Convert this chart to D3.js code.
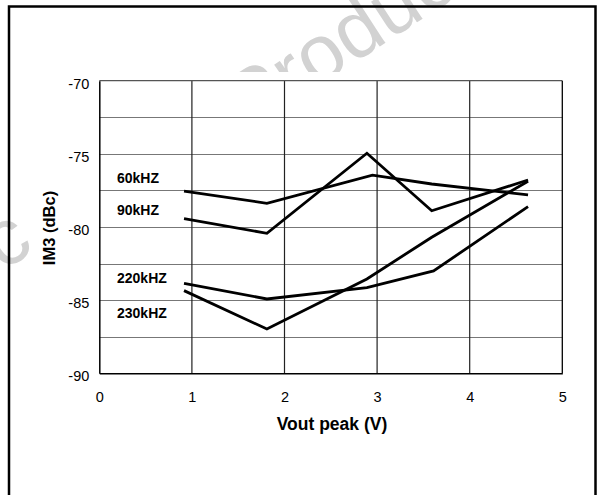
<!DOCTYPE html>
<html>
<head>
<meta charset="utf-8">
<script src="https://cdn.jsdelivr.net/npm/d3@7"></script>
<style>
  html, body { margin: 0; padding: 0; background: #fff; }
  svg { display: block; font-family: "Liberation Sans", Arial, sans-serif; }
</style>
</head>
<body>
<svg id="chart" width="597" height="495"></svg>
<script>
// ---- data ----
const seriesNames = ["60kHZ", "90kHZ", "220kHZ", "230kHZ"];
const x60  = [0.915, 1.81, 2.95, 3.59, 4.63];
const y60  = [-77.54, -78.38, -76.45, -77.06, -77.81];
const x90  = [0.915, 1.81, 2.89, 3.59, 4.63];
const y90  = [-79.43, -80.43, -74.96, -78.89, -76.79];
const x220 = [0.915, 1.81, 2.89, 3.61, 4.63];
const y220 = [-83.85, -84.92, -84.15, -83.0, -78.61];
const x230 = [0.915, 1.81, 2.89, 3.59, 4.63];
const y230 = [-84.35, -86.97, -83.55, -80.7, -76.87];
const xTicks = [0, 1, 2, 3, 4, 5];
const yTicks = [-90, -85, -80, -75, -70];
const yGrid = [-87.5, -85, -82.5, -80, -77.5, -75, -72.5];
const xGrid = [1, 2, 3, 4];

const svg = d3.select("#chart");
const L = 99.3, R = 562.3, T = 80.7, B = 373.3;
const x = d3.scaleLinear().domain([0, 5]).range([L, R]);
const y = d3.scaleLinear().domain([-90, -70]).range([B, T]);

// watermark (mostly hidden behind the chart area)
svg.append("defs").append("clipPath").attr("id", "wmclip")
  .append("path")
  .attr("d", "M0,0H597V72H37V495H0Z");
const wm = svg.append("g").attr("clip-path", "url(#wmclip)")
  .attr("font-size", 80).attr("fill", "#d2d2d2");
wm.append("text")
  .attr("transform", "translate(248,132) rotate(-33)")
  .text("Product");
wm.append("text")
  .attr("transform", "translate(36,250) rotate(-33)")
  .attr("text-anchor", "end")
  .text("Electronic");

// outer frame
svg.append("rect")
  .attr("x", 9).attr("y", 6.5).attr("width", 586.5).attr("height", 520)
  .attr("fill", "none").attr("stroke", "#000").attr("stroke-width", 2.5);

// grid
svg.append("g").selectAll("line").data(yGrid).join("line")
  .attr("x1", L).attr("x2", R)
  .attr("y1", d => Math.round(y(d)) + 0.5).attr("y2", d => Math.round(y(d)) + 0.5)
  .attr("stroke", "#777").attr("stroke-width", 1.2);
svg.append("g").selectAll("line").data(xGrid).join("line")
  .attr("y1", T).attr("y2", B)
  .attr("x1", d => x(d)).attr("x2", d => x(d))
  .attr("stroke", "#222").attr("stroke-width", 1.2);

// plot border
svg.append("line").attr("x1", L).attr("x2", R).attr("y1", T).attr("y2", T)
  .attr("stroke", "#555").attr("stroke-width", 1.3);
svg.append("line").attr("x1", R).attr("x2", R).attr("y1", T).attr("y2", B)
  .attr("stroke", "#000").attr("stroke-width", 1.3);

// axes
const fmt = d => String(d);
const ax = svg.append("g").attr("transform", `translate(0,${B})`)
  .call(d3.axisBottom(x).tickValues(xTicks).tickSize(0).tickPadding(18).tickFormat(fmt));
const ay = svg.append("g").attr("transform", `translate(${L},0)`)
  .call(d3.axisLeft(y).tickValues(yTicks).tickSize(0).tickPadding(10).tickFormat(fmt));
[ax, ay].forEach(g => {
  g.select(".domain").attr("stroke", "#000").attr("stroke-width", 1.5);
  g.selectAll("text").attr("font-size", 14.5).attr("fill", "#000")
    .attr("font-family", "'Liberation Sans', Arial, sans-serif");
});
ay.selectAll("text").attr("dy", "0.52em");
ax.selectAll("text").attr("dy", "0.71em");

// lines
const xs = [x60, x90, x220, x230];
const ys = [y60, y90, y220, y230];
const line = d3.line().x(d => x(d[0])).y(d => y(d[1]));
svg.append("g").selectAll("path").data(xs.map((xa, i) => xa.map((v, j) => [v, ys[i][j]])))
  .join("path")
  .attr("d", line)
  .attr("fill", "none").attr("stroke", "#000").attr("stroke-width", 2.8)
  .attr("stroke-linejoin", "miter");

// series labels
svg.append("g").selectAll("text").data(seriesNames).join("text")
  .attr("x", 117)
  .attr("y", (d, i) => [183, 214.5, 282.7, 317.7][i])
  .attr("font-size", 14).attr("font-weight", "bold").attr("fill", "#000")
  .text(d => d);

// axis titles
svg.append("text")
  .attr("x", 332).attr("y", 430)
  .attr("text-anchor", "middle").attr("font-size", 17.5).attr("font-weight", "bold")
  .text("Vout peak (V)");
svg.append("text")
  .attr("transform", "translate(54.5,228) rotate(-90)")
  .attr("text-anchor", "middle").attr("font-size", 16.5).attr("font-weight", "bold")
  .text("IM3 (dBc)");
</script>
</body>
</html>
